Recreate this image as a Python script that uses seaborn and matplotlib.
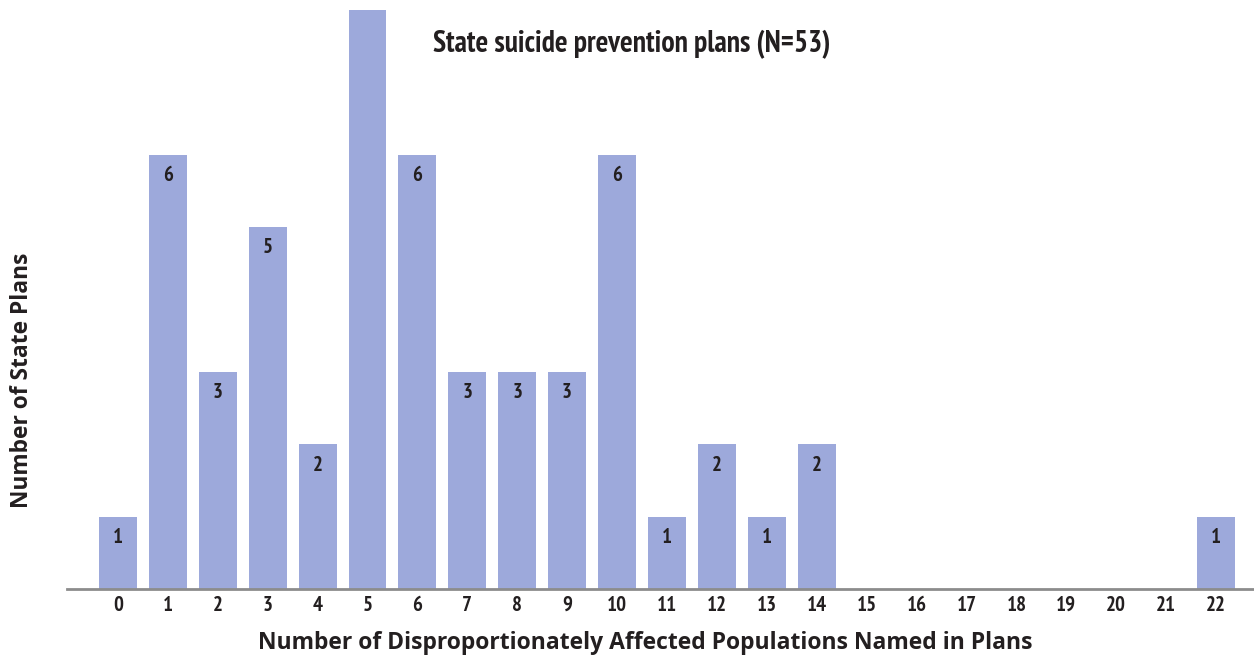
import matplotlib
matplotlib.use("Agg")
import matplotlib.pyplot as plt
import seaborn as sns
import pandas as pd

categories = [str(i) for i in range(23)]
counts = [1, 6, 3, 5, 2, 8, 6, 3, 3, 3, 6, 1, 2, 1, 2, 0, 0, 0, 0, 0, 0, 0, 1]
title = "State suicide prevention plans (N=53)"
xlabel = "Number of Disproportionately Affected Populations Named in Plans"
ylabel = "Number of State Plans"

sns.set_theme(style="white")
cond = ['PT Sans Narrow', 'Fira Sans Condensed', 'DejaVu Sans']
reg = ['Open Sans', 'DejaVu Sans']
plt.rcParams['font.family'] = cond

df = pd.DataFrame({"n": categories, "count": counts})

fig = plt.figure(figsize=(12.54, 6.6), dpi=100)
ax = fig.add_axes([67/1254, 71/660, 1 - 67/1254, 579/660])
bar_color = "#9da9db"
text_color = "#231f20"
sns.barplot(data=df, x="n", y="count", order=categories, color=bar_color,
            width=0.76, saturation=1, linewidth=0, ax=ax)

ymax = 8
ax.set_ylim(0, ymax)
ax.set_xlim(-1.02, 22.76)

for i, v in enumerate(counts):
    if 0 < v < ymax:
        ax.annotate(str(v), (i, v), xytext=(0, -15), textcoords="offset points",
                    ha="center", va="center", fontsize=15, fontweight="bold",
                    color=text_color, family=cond)

for s in ["top", "right", "left"]:
    ax.spines[s].set_visible(False)
ax.spines["bottom"].set_color("#8c8c8c")
ax.spines["bottom"].set_linewidth(2)
ax.set_yticks([])
ax.tick_params(axis="x", length=0, pad=5)
for lbl in ax.get_xticklabels():
    lbl.set_fontsize(15)
    lbl.set_fontweight("bold")
    lbl.set_color(text_color)
    lbl.set_family(cond)
ax.set_xlabel("")
ax.set_ylabel("")

fig.text(632/1254, 1 - 44/660, title, ha="center", va="center", fontsize=21.3,
         fontweight="bold", color=text_color, family=cond)
fig.text(645/1254, 1 - 643/660, xlabel, ha="center", va="center", fontsize=16.5,
         fontweight="bold", color=text_color, family=reg)
fig.text(22/1254, 1 - 380/660, ylabel, ha="center", va="center", rotation=90,
         fontsize=16.4, fontweight="bold", color=text_color, family=reg)

fig.savefig("out.png", dpi=100)
